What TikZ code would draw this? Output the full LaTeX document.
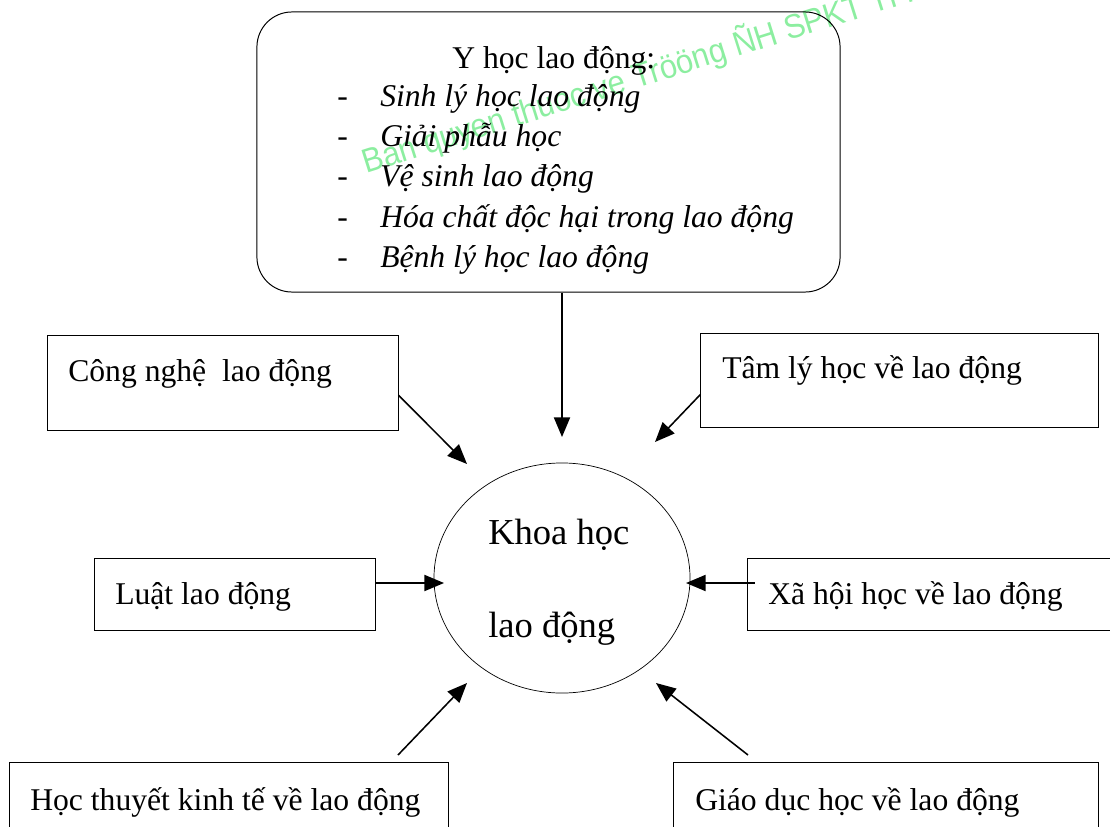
\documentclass[tikz,border=0pt]{standalone}
\usepackage{fontspec}
\setmainfont{Liberation Serif}
\newfontfamily\wmfont{Liberation Sans}
\usetikzlibrary{arrows.meta,shapes.geometric}

\definecolor{wmgreen}{RGB}{140,238,160}

\begin{document}
\begin{tikzpicture}[x=0.025cm,y=-0.025cm,
    box/.style={draw,line width=0.7pt,inner sep=0pt},
    lbl/.style={anchor=base west,inner sep=0pt,font=\fontsize{22.5}{26}\selectfont},
    arr/.style={-{Triangle[length=14pt,width=11.5pt]},line width=1.1pt}]
    \useasboundingbox (0,0) rectangle (1110,827);

    % watermark
    \node (wm) at (366,174) [anchor=base west,inner sep=0pt,rotate=17.5,xscale=0.92,text=wmgreen,
        font=\wmfont\fontsize{24}{28}\selectfont] {Ban quyen thuoc ve Trööng ÑH SPKT TP. HCM};

    % top box
    \node (yhoc) at (548.5,152) [box,rounded corners=0.875cm,minimum width=14.575cm,minimum height=7cm] {};
    \node (ytitle) at (452,69) [lbl] {Y học lao động:};
    \foreach \txt [count=\i] in {Sinh lý học lao động,Giải phẫu học,Vệ sinh lao động,
        Hóa chất độc hại trong lao động,Bệnh lý học lao động}{
        \node (ydash\i) at (337,67+40*\i) [lbl] {-};
        \node (yitem\i) at (380,67+40*\i) [lbl] {\itshape\txt};
    }

    % centre
    \node (khoa) at (562,578) [shape=ellipse,draw,line width=0.5pt,minimum width=6.4cm,minimum height=5.75cm] {};
    \node (khoa1) at (488,544) [lbl,font=\fontsize{26}{30}\selectfont] {Khoa học};
    \node (khoa2) at (488,637) [lbl,font=\fontsize{26}{30}\selectfont] {lao động};

    % side boxes
    \node (cnbox) at (223,383) [box,minimum width=8.75cm,minimum height=2.35cm] {};
    \node (cntext) at (68,381) [lbl] {Công nghệ\ \ lao động};
    \node (tlbox) at (899.5,380.5) [box,minimum width=9.925cm,minimum height=2.325cm] {};
    \node (tltext) at (722,378) [lbl] {Tâm lý học về lao động};
    \node (lbox) at (235,594) [box,minimum width=7cm,minimum height=1.8cm] {};
    \node (ltext) at (115,604) [lbl] {Luật lao động};
    \node (xbox) at (939,594) [box,minimum width=9.55cm,minimum height=1.8cm] {};
    \node (xtext) at (768,604) [lbl] {Xã hội học về lao động};
    \node (hbox) at (229,806) [box,minimum width=10.95cm,minimum height=2.2cm] {};
    \node (htext) at (30,810) [lbl] {Học thuyết kinh tế về lao động};
    \node (gbox) at (886,806) [box,minimum width=10.6cm,minimum height=2.2cm] {};
    \node (gtext) at (695,810) [lbl] {Giáo dục học về lao động};

    % arrow tips
    \coordinate (t1) at (467,464);
    \coordinate (t2) at (562,437);
    \coordinate (t3) at (655,442);
    \coordinate (t4) at (444,583);
    \coordinate (t5) at (686,583);
    \coordinate (s6) at (398,755);
    \coordinate (t6) at (467,683);
    \coordinate (s7) at (748,755);
    \coordinate (t7) at (656,683);

    \draw[arr] (cnbox.-4) -- (t1);
    \draw[arr] (yhoc.south -| t2) -- (t2);
    \draw[arr] (tlbox.184) -- (t3);
    \draw[arr] (lbox.east |- t4) -- (t4);
    \draw[arr] ([xshift=5pt]xbox.west |- t5) -- (t5);
    \draw[arr] (s6) -- (t6);
    \draw[arr] (s7) -- (t7);
\end{tikzpicture}
\end{document}
